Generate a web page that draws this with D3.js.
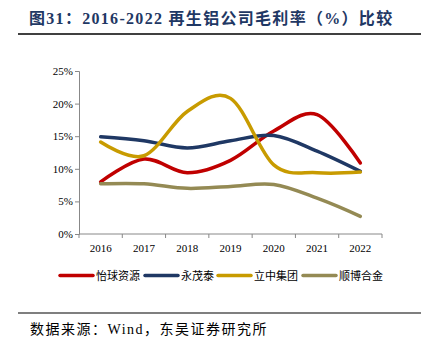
<!DOCTYPE html>
<html>
<head>
<meta charset="utf-8">
<script src="https://cdn.jsdelivr.net/npm/d3@7"></script>
<style>
  body { margin: 0; background: #fff; }
  svg { display: block; }
</style>
</head>
<body>
<svg id="chart" width="427" height="350"></svg>
<script>
// chart data
const years = ['2016', '2017', '2018', '2019', '2020', '2021', '2022'];
const seriesNames = ['怡球资源', '永茂泰', '立中集团', '顺博合金'];
const yiqiu = [8.0, 11.5, 9.4, 11.3, 15.8, 18.3, 10.9];
const yongmaotai = [14.9, 14.3, 13.2, 14.3, 15.1, 12.7, 9.6];
const lizhong = [14.1, 12.0, 18.8, 20.8, 10.6, 9.4, 9.5];
const shunbo = [7.7, 7.7, 7.0, 7.3, 7.6, 5.5, 2.7];
const yTicks = [0, 5, 10, 15, 20, 25];

const colors = ['#C00000', '#1F3864', '#C89B00', '#948A54'];
const allSeries = [yiqiu, yongmaotai, lizhong, shunbo];

const svg = d3.select('#chart');
const serif = '"Liberation Serif", "Noto Sans CJK SC", serif';

// title
svg.append('text')
    .attr('x', 29).attr('y', 24)
    .attr('font-family', serif)
    .attr('font-weight', 'bold')
    .attr('font-size', 16)
    .attr('fill', '#1F3864')
    .attr('letter-spacing', 1.3)
    .text('图31：2016-2022 再生铝公司毛利率（%）比较');

svg.append('line')
    .attr('x1', 18).attr('x2', 421).attr('y1', 34).attr('y2', 34)
    .attr('stroke', '#000').attr('stroke-width', 1.5);

// plot area
const x = d3.scaleBand().domain(years).range([79, 382]);
const y = d3.scaleLinear().domain([0, 25]).range([234, 71]);

const g = svg.append('g');

// y axis
const yAxis = g.append('g')
    .attr('transform', 'translate(79,0)')
    .call(d3.axisLeft(y).tickValues(yTicks).tickSize(4).tickFormat(d => d + '%'));
yAxis.select('.domain').attr('stroke', '#888');
yAxis.selectAll('line').attr('stroke', '#888');
yAxis.selectAll('text')
    .attr('font-family', serif).attr('font-size', 11).attr('fill', '#000')
    .attr('x', -6);

// x axis with ticks at band edges
const xAxis = g.append('g').attr('transform', 'translate(0,234)');
xAxis.append('line')
    .attr('x1', 79).attr('x2', 382)
    .attr('stroke', '#888');
const edges = years.map(d => x(d)).concat([x.range()[1]]);
xAxis.selectAll('line.tick')
    .data(edges)
    .enter().append('line')
    .attr('class', 'tick')
    .attr('x1', d => d).attr('x2', d => d)
    .attr('y1', 0).attr('y2', 4)
    .attr('stroke', '#888');
xAxis.selectAll('text')
    .data(years)
    .enter().append('text')
    .attr('x', d => x(d) + x.bandwidth() / 2)
    .attr('y', 18)
    .attr('text-anchor', 'middle')
    .attr('font-family', serif).attr('font-size', 11)
    .text(d => d);

// lines
const line = d3.line()
    .x((d, i) => x(years[i]) + x.bandwidth() / 2)
    .y(d => y(d))
    .curve(d3.curveCardinal.tension(0));

g.selectAll('path.series')
    .data(allSeries)
    .enter().append('path')
    .attr('class', 'series')
    .attr('d', line)
    .attr('fill', 'none')
    .attr('stroke', (d, i) => colors[i])
    .attr('stroke-width', 3.5)
    .attr('stroke-linecap', 'round');

// legend
const legendX = [60, 145, 218, 303];
const legend = svg.append('g');
seriesNames.forEach((name, i) => {
    legend.append('line')
        .attr('x1', legendX[i]).attr('x2', legendX[i] + 33)
        .attr('y1', 275.5).attr('y2', 275.5)
        .attr('stroke', colors[i]).attr('stroke-width', 3.5)
        .attr('stroke-linecap', 'round');
    legend.append('text')
        .attr('x', legendX[i] + 36).attr('y', 280)
        .attr('font-family', serif).attr('font-size', 11)
        .text(name);
});

// footer
svg.append('line')
    .attr('x1', 18).attr('x2', 421).attr('y1', 313).attr('y2', 313)
    .attr('stroke', '#000').attr('stroke-width', 1.2);

svg.append('text')
    .attr('x', 30).attr('y', 334)
    .attr('font-family', serif).attr('font-size', 14)
    .attr('letter-spacing', 1.5)
    .text('数据来源：Wind，东吴证券研究所');
</script>
</body>
</html>
